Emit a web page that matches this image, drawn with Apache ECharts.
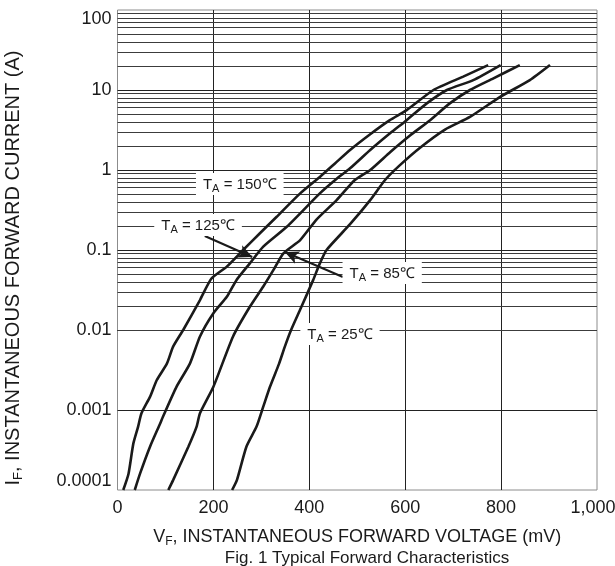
<!DOCTYPE html>
<html>
<head>
<meta charset="utf-8">
<script src="https://cdn.jsdelivr.net/npm/echarts@6/dist/echarts.min.js"></script>
<style>html,body{margin:0;padding:0;background:#fff}#c{width:615px;height:566px}</style>
</head>
<body>
<div id="c"></div>
<script>
// ---- data (forward voltage in mV, forward current in A) ----
const xTickLabels = ['0', '200', '400', '600', '800', '1,000'];
const yTickLabels = ['0.0001', '0.001', '0.01', '0.1', '1', '10', '100'];

const v150 = [12, 23, 33, 43, 50, 68, 82, 103, 116, 137, 172, 196, 228, 262, 297, 332, 381, 422, 453, 485, 527, 568, 603, 659, 721, 773];
const i150 = [0.0001, 0.00016, 0.00038, 0.00062, 0.00091, 0.00147, 0.00237, 0.0038, 0.0062, 0.01, 0.0237, 0.044, 0.062, 0.1, 0.162, 0.26, 0.51, 0.82, 1.2, 1.78, 2.8, 4.2, 5.6, 10, 14.7, 20.5];

const v125 = [36, 47, 68, 89, 95, 123, 151, 172, 200, 228, 248, 276, 304, 353, 422, 454, 485, 527, 569, 603, 645, 687, 742, 799];
const i125 = [0.0001, 0.00016, 0.00035, 0.00068, 0.00083, 0.00195, 0.0038, 0.0083, 0.0162, 0.026, 0.042, 0.068, 0.11, 0.195, 0.51, 0.75, 1.05, 1.78, 2.9, 4.2, 6.8, 10, 13.3, 20.5];

const v85 = [106, 116, 148, 165, 172, 200, 241, 276, 304, 325, 346, 381, 415, 457, 495, 527, 569, 610, 652, 693, 735, 784, 839];
const i85 = [0.0001, 0.000133, 0.00035, 0.00062, 0.00091, 0.00195, 0.0083, 0.0195, 0.035, 0.056, 0.091, 0.133, 0.24, 0.42, 0.75, 1.0, 1.68, 2.7, 4.2, 6.8, 10, 14, 20.5];

const v25 = [239, 249, 269, 290, 304, 318, 337, 349, 362, 381, 408, 422, 436, 485, 527, 558, 589, 631, 683, 735, 798, 860, 902];
const i25 = [0.0001, 0.000133, 0.00035, 0.00062, 0.0011, 0.00195, 0.0038, 0.0062, 0.01, 0.018, 0.042, 0.068, 0.1, 0.21, 0.42, 0.75, 1.15, 1.9, 3.2, 4.6, 8.2, 13.3, 20.5];

// annotation labels: temperature text, voltage, current
const labelTemps = ['150', '125', '85', '25'];
const labelV = [255, 168, 552, 464];
const labelI = [0.668, 0.205, 0.0516, 0.0089];
// arrows: [fromV, fromI, toV, toI]
const arrow125 = [182, 0.1496, 281, 0.0818];
const arrow85 = [470, 0.046, 349, 0.0944];

// minor horizontal grid values (2..9 per decade)
const minorMultipliers = [2, 3, 4, 5, 6, 7, 8, 9];
const decades = [-4, -3, -2, -1, 0, 1];

const FONT = 'Liberation Sans, Arial, sans-serif';
const INK = '#1a1a1a';

function zip(a, b) { return a.map((v, k) => [v, b[k]]); }

const minorLines = [];
decades.forEach(d => minorMultipliers.forEach(m => {
  minorLines.push({ yAxis: +(m * Math.pow(10, d)).toPrecision(6) });
}));

const xNameRich = {
  t: { fontSize: 18, fontFamily: FONT, color: INK },
  s: { fontSize: 12, fontFamily: FONT, color: INK, verticalAlign: 'bottom', padding: [9, 0, 0, 0] }
};
const yNameRich = {
  t: { fontSize: 20, fontFamily: FONT, color: INK },
  s: { fontSize: 13, fontFamily: FONT, color: INK, verticalAlign: 'bottom', padding: [10, 0, 0, 0] }
};
const annRich = {
  t: { fontSize: 15, fontFamily: FONT, color: INK },
  s: { fontSize: 11, fontFamily: FONT, color: INK, padding: [8, 0, 0, 0] }
};

const curveStyle = { color: INK, width: 2.6 };
function curve(name, v, i) {
  return {
    name, type: 'line', data: zip(v, i), showSymbol: false, smooth: 0.2,
    lineStyle: curveStyle, itemStyle: { color: INK }, z: 5, silent: true
  };
}

const option = {
  animation: false,
  backgroundColor: '#fff',
  title: {
    text: 'Fig. 1 Typical Forward Characteristics',
    left: 367, top: 550, textAlign: 'center', padding: 0,
    textStyle: { fontSize: 17, fontWeight: 'normal', fontFamily: FONT, color: INK }
  },
  grid: { left: 117.5, right: 18, top: 10, bottom: 76, show: true, borderColor: '#8c8c8c', borderWidth: 1, outerBoundsMode: 'none', containLabel: false },
  xAxis: {
    type: 'value', min: 0, max: 1000, interval: 200,
    axisLine: { show: false }, axisTick: { show: false },
    splitLine: { show: true, showMinLine: false, showMaxLine: false, lineStyle: { color: '#222', width: 1 } },
    axisLabel: {
      fontSize: 18, fontFamily: FONT, color: INK, margin: 9,
      formatter: v => {
        const k = Math.round(v / 200);
        return k === xTickLabels.length - 1 ? '{m|' + xTickLabels[k] + '}' : xTickLabels[k];
      },
      rich: { m: { fontSize: 18, fontFamily: FONT, color: INK, padding: [0, 8, 0, 0] } }
    },
    name: '{t|V}{s|F}{t|, INSTANTANEOUS FORWARD VOLTAGE (mV)}',
    nameLocation: 'middle', nameGap: 37,
    nameTextStyle: { rich: xNameRich }
  },
  yAxis: {
    type: 'log', logBase: 10, min: 0.0001, max: 100, splitNumber: 6,
    axisLine: { show: false }, axisTick: { show: false },
    splitLine: { show: true, showMinLine: false, showMaxLine: false, lineStyle: { color: '#222', width: 1 } },
    axisLabel: {
      fontSize: 18, fontFamily: FONT, color: INK, margin: 6,
      verticalAlignMinLabel: 'bottom', verticalAlignMaxLabel: 'top',
      formatter: v => yTickLabels[Math.round(Math.log10(v)) + 4]
    },
    name: '{t|I}{s|F}{t|, INSTANTANEOUS FORWARD CURRENT (A)}',
    nameLocation: 'middle', nameGap: 93, nameRotate: 90,
    nameTextStyle: { rich: yNameRich, padding: [0, 36, 0, 0] }
  },
  series: [
    {
      name: 'grid', type: 'line', data: [], z: 1, silent: true,
      markLine: {
        silent: true, symbol: ['none', 'none'], label: { show: false },
        lineStyle: { color: '#3c3c3c', width: 1, type: 'solid' },
        emphasis: { disabled: true },
        data: minorLines
      }
    },
    curve('150', v150, i150),
    curve('125', v125, i125),
    curve('85', v85, i85),
    curve('25', v25, i25),
    {
      name: 'annotations', type: 'line', data: [], z: 8, silent: true,
      markPoint: {
        silent: true, symbol: 'rect', symbolSize: 0,
        label: {
          show: true, position: 'inside', backgroundColor: '#fff', padding: [2, 7, 1, 7],
          rich: annRich
        },
        data: labelTemps.map((t, k) => ({
          coord: [labelV[k], labelI[k]],
          label: { formatter: '{t|T}{s|A}{t| = ' + t + '\u2103}' }
        }))
      },
      markLine: {
        silent: true, symbol: ['none', 'arrow'], symbolSize: [10, 14],
        label: { show: false },
        lineStyle: { color: INK, width: 2, type: 'solid' },
        data: [
          [{ coord: [arrow125[0], arrow125[1]] }, { coord: [arrow125[2], arrow125[3]] }],
          [{ coord: [arrow85[0], arrow85[1]] }, { coord: [arrow85[2], arrow85[3]] }]
        ]
      }
    }
  ]
};

const chart = echarts.init(document.getElementById('c'), null, { renderer: 'canvas' });
chart.setOption(option);
</script>
</body>
</html>
